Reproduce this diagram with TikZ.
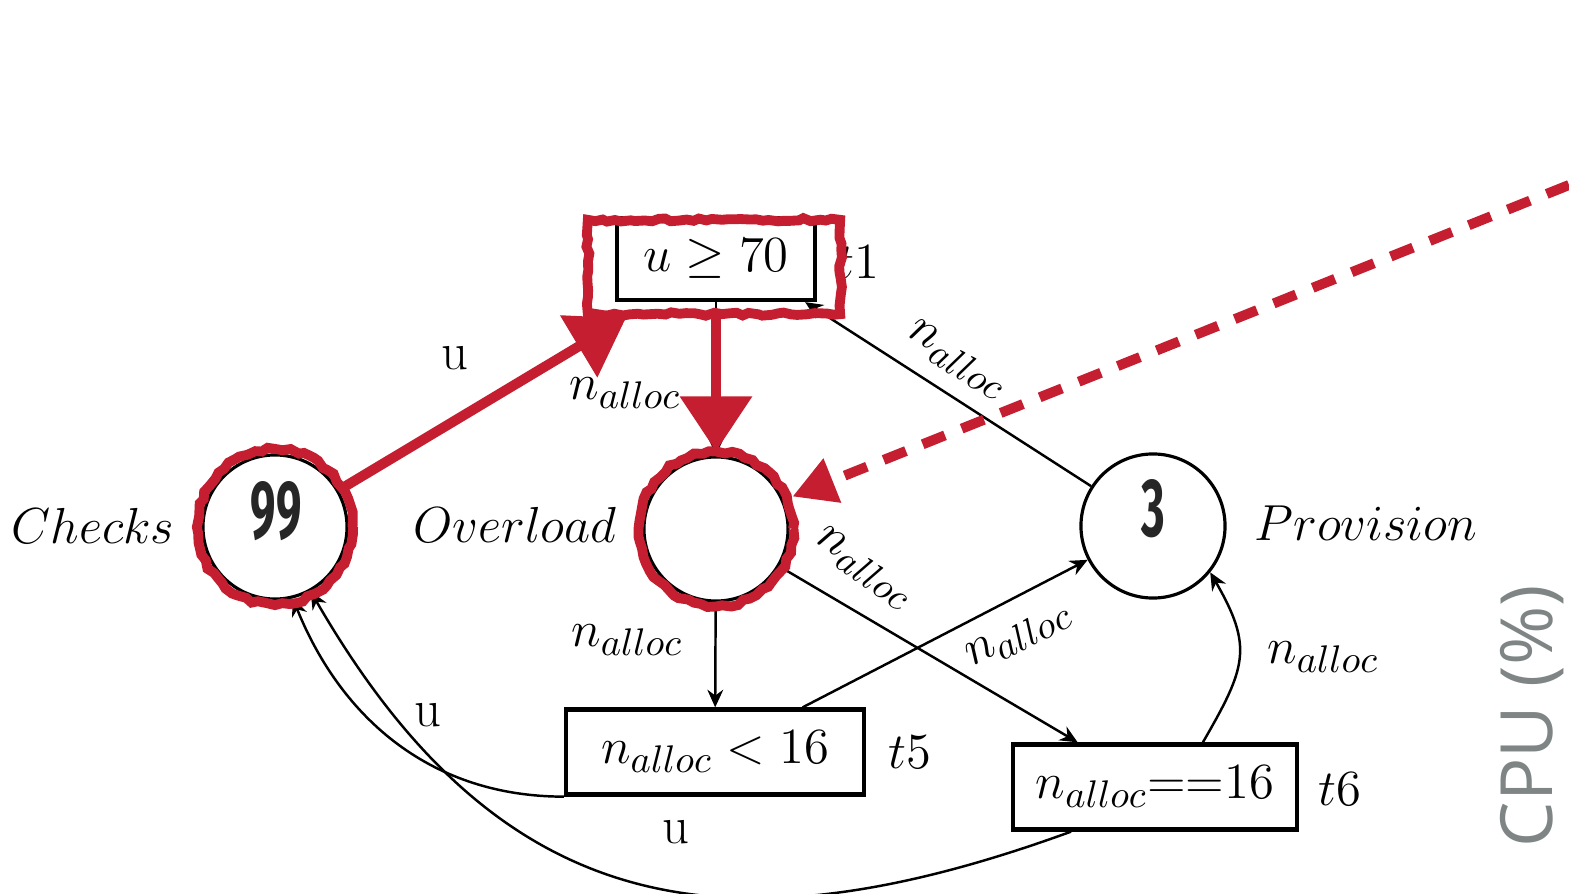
\documentclass[tikz,border=0pt]{standalone}
\usepackage{fontspec}
\usepackage{graphicx}
\usetikzlibrary{arrows.meta, positioning, calc, decorations.pathmorphing}
\definecolor{markred}{RGB}{197, 30, 48}
\definecolor{axisgray}{RGB}{127, 133, 133}
\newfontfamily\tallyfont{Fira Sans}
\newfontfamily\axisfont{Open Sans}

\tikzset{
  loc/.style={circle, draw=black, line width=0.9pt, minimum size=1.44cm, inner sep=0pt},
  guard/.style={rectangle, draw=black, line width=1.2pt, inner sep=0pt},
  trans/.style={-{Stealth[length=5pt, width=4.5pt]}, line width=0.7pt},
  tally/.style={font=\tallyfont\bfseries\fontsize{23.5}{26}\selectfont, text=black!85},
  chalk/.style={draw=markred, line width=2.8pt, decorate,
    decoration={random steps, segment length=2pt, amplitude=0.5pt}},
  bigarrow/.style={markred, line width=0.1cm, -{Triangle[length=0.55cm, width=0.7cm]}},
  axislabel/.style={font=\axisfont\fontsize{20.5}{24}\selectfont, text=axisgray}
}

\begin{document}
\begin{tikzpicture}[x=0.01cm, y=-0.01cm, every node/.style={font=\fontsize{15}{18}\selectfont}]
  \useasboundingbox (0,0) rectangle (1569,894);

  % --- places ---
  \node[loc] (chk) at (275,527) {};
  \node[loc] (ovl) at (716,529) {};
  \node[loc] (prov) at (1153,526) {};
  \node[tally] (chkn) at (276,511) {\scalebox{0.55}[1]{99}};
  \node[tally] (provn) at (1153,509) {\scalebox{0.55}[1]{3}};
  \node[anchor=base] (chkl) at (93,543) {$Checks$};
  \node[anchor=base] (ovll) at (515,542) {$Overload$};
  \node[anchor=base] (provl) at (1366,540) {$Provision$};

  % --- guards ---
  \node[guard, minimum width=1.98cm, minimum height=0.82cm] (t1) at (716,259) {$u \geq 70$};
  \node[guard, minimum width=2.98cm, minimum height=0.85cm] (t5) at (715,752) {$n_{alloc} < 16$};
  \node[guard, minimum width=2.84cm, minimum height=0.85cm] (t6) at (1155,787) {$n_{alloc}{=}{=}16$};
  \node[anchor=base] (t1l) at (858,278) {$t1$};
  \node[anchor=base] (t5l) at (910,768) {$t5$};
  \node[anchor=base] (t6l) at (1340,805) {$t6$};

  \coordinate (t1hit) at ($(t1.south west)+(11,16)$);

  % --- transitions ---
  \draw[trans] (chk) -- (t1hit);
  \draw[trans] (t1) -- (ovl);
  \draw[trans] (prov) -- ([xshift=-0.12cm]t1.south east);
  \draw[trans] (ovl) -- (t5);
  \draw[trans] (ovl) -- (t6.150);
  \draw[trans] (t5.27) -- (prov);
  \draw[trans] (t6.43) to[out=60, in=-60, looseness=1.3] (prov.-39);
  \draw[trans] (t5.south west) to[out=180, in=-68] (chk.-76);
  \draw[trans] (t6.-152) to[out=200, in=-60, looseness=1.2] (chk.-61);

  % arc labels
  \node (l1) at (455,358) {$\mathrm{u}$};
  \node (l2) at (625,393) {$n_{alloc}$};
  \node[rotate=-32] (l3) at (957,360) {$n_{alloc}$};
  \node[rotate=-35] (l4) at (864,568) {$n_{alloc}$};
  \node[rotate=27] (l5) at (1019,636) {$n_{alloc}$};
  \node (l6) at (627,640) {$n_{alloc}$};
  \node (l7) at (1323,657) {$n_{alloc}$};
  \node (l8) at (428,715) {$\mathrm{u}$};
  \node (l9) at (676,832) {$\mathrm{u}$};

  % --- red marks on top ---
  \draw[chalk] (chk) circle[radius=0.775cm];
  \draw[chalk] (ovl) circle[radius=0.77cm];
  \draw[chalk] ($(t1.north west)+(-27,4)$) rectangle ($(t1.south east)+(23,12)$);
  \draw[bigarrow] (chk.30) -- (t1hit);
  \draw[bigarrow] ($(t1.south)+(0,12)$) -- ($(ovl.north)+(0,-4)$);
  \coordinate (far) at (1569,185);
  \draw[markred, line width=0.1cm, dash pattern=on 0.24cm off 0.18cm,
    -{Triangle[length=0.43cm, width=0.45cm]}] (far) -- ($(ovl)+(23:0.83cm)$);

  % axis title at the right edge
  \node[axislabel, rotate=90, anchor=base] (cpu) at (1552,716) {CPU (\%)};
\end{tikzpicture}
\end{document}
